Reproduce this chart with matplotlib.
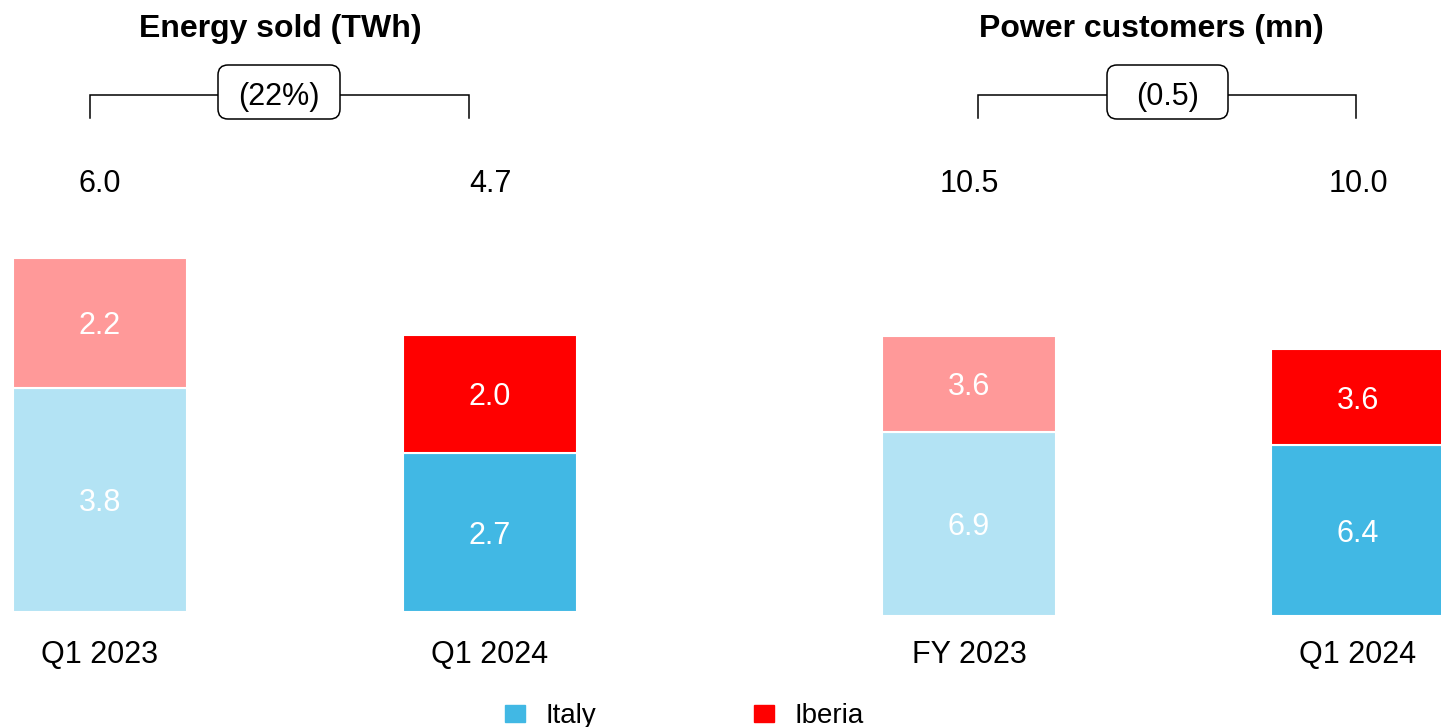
import matplotlib
matplotlib.use("Agg")
import matplotlib.pyplot as plt
from matplotlib.patches import FancyBboxPatch, Patch

plt.rcParams['font.family'] = ['Liberation Sans', 'DejaVu Sans']

# energy sold (TWh)
energy_periods = ['Q1 2023', 'Q1 2024']
energy_italy = [3.8, 2.7]
energy_iberia = [2.2, 2.0]
energy_total = [6.0, 4.7]
energy_change = '(22%)'

# power customers (mn)
customer_periods = ['FY 2023', 'Q1 2024']
customer_italy = [6.9, 6.4]
customer_iberia = [3.6, 3.6]
customer_total = [10.5, 10.0]
customer_change = '(0.5)'

italy_colors = ['#B3E3F4', '#41B8E4']   # previous period lighter
iberia_colors = ['#FF9999', '#FF0000']

W, H = 1441, 727
BAR_PX = 174

fig = plt.figure(figsize=(W / 100, H / 100), dpi=100)

# overlay in pixel coords for brackets, titles
ov = fig.add_axes([0, 0, 1, 1])
ov.set_xlim(0, W)
ov.set_ylim(H, 0)
ov.axis('off')


def panel(periods, italy, iberia, totals, x0_px, x1_px, base_px, ppu):
    ax = fig.add_axes([0, 0, 1, 1])
    step = x1_px - x0_px
    ax.set_xlim(-x0_px / step, (W - x0_px) / step)
    ax.set_ylim(-(H - base_px) / ppu, base_px / ppu)
    ax.axis('off')
    ax.patch.set_alpha(0)

    def y_px(p):
        return (base_px - p) / ppu

    x = list(range(len(periods)))
    w = BAR_PX / step
    ax.bar(x, italy, width=w, color=italy_colors, edgecolor='white', linewidth=1.5)
    ax.bar(x, iberia, width=w, bottom=italy, color=iberia_colors, edgecolor='white', linewidth=1.5)

    for xi, a, b, t, p in zip(x, italy, iberia, totals, periods):
        ax.text(xi, a / 2, f'{a:.1f}', color='white', fontsize=22,
                ha='center', va='center_baseline')
        ax.text(xi, a + b / 2, f'{b:.1f}', color='white', fontsize=22,
                ha='center', va='center_baseline')
        ax.text(xi, y_px(192), f'{t:.1f}', fontsize=22, ha='center', va='baseline')
        ax.text(xi, y_px(663), p, fontsize=22, ha='center', va='baseline')
    return ax


panel(energy_periods, energy_italy, energy_iberia, energy_total, 100, 490, 612, 59.0)
panel(customer_periods, customer_italy, customer_iberia, customer_total, 969, 1358, 616, 26.7)


def bracket(xl, xr, box_l, box_r, label):
    ov.plot([xl, xl, xr, xr], [118, 95, 95, 118], color='black', lw=1.1,
            solid_joinstyle='miter')
    box = FancyBboxPatch((box_l, 65), box_r - box_l, 54,
                         boxstyle='round,pad=0,rounding_size=10',
                         facecolor='white', edgecolor='black', lw=1.1, zorder=3)
    ov.add_patch(box)
    ov.text((box_l + box_r) / 2, 94, label, fontsize=22, ha='center',
            va='center_baseline', zorder=4)


bracket(90, 469, 218, 340, energy_change)
bracket(978, 1356, 1107, 1228, customer_change)

ov.text(280, 25, 'Energy sold (TWh)', fontsize=23, fontweight='bold',
        ha='center', va='center_baseline')
ov.text(1151, 25, 'Power customers (mn)', fontsize=23, fontweight='bold',
        ha='center', va='center_baseline')

handles = [Patch(color='#41B8E4', label='Italy'), Patch(color='#FF0000', label='Iberia')]
fig.legend(handles=handles, loc='lower left', bbox_to_anchor=(505 / W, -2 / H),
           ncol=2, frameon=False, fontsize=20, handlelength=0.72, handleheight=0.58,
           handletextpad=0.72, columnspacing=5.7, borderpad=0, borderaxespad=0)

fig.savefig('out.png', dpi=100)
